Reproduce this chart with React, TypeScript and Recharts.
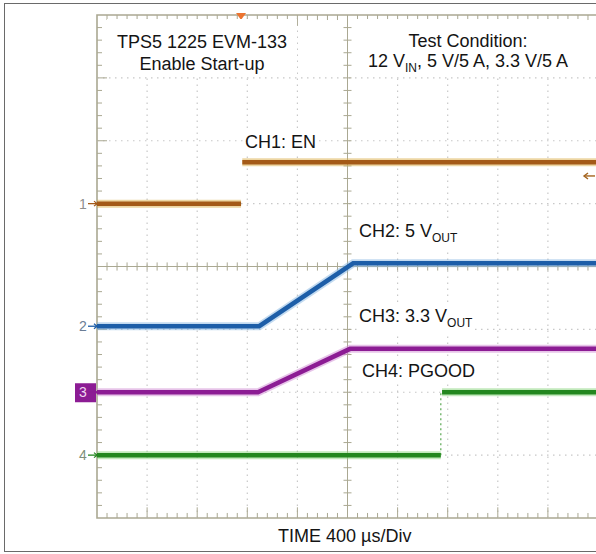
import React from "react";
import {
  ComposedChart,
  Line,
  XAxis,
  YAxis,
  ReferenceLine,
  ReferenceArea,
  ReferenceDot,
} from "recharts";

// scope screen: 10 x 8 divisions, 400 µs per division
const US_PER_DIV = 400;
const X_DIVS = 10;
const Y_DIVS = 8;
const SUBDIVS = 5;

// CH1: EN, steps high at ~1.15 ms (null = no trace drawn on the fast edge)
const enTime = [0, 1150, 1150, 1160, 4000];
const enLevel = [5.0, 5.0, null, 5.66, 5.66];

// CH2: 5 V output soft-start
const v5Time = [0, 1295, 2045, 4000];
const v5Level = [3.05, 3.05, 4.05, 4.05];

// CH3: 3.3 V output soft-start
const v33Time = [0, 1285, 2020, 4000];
const v33Level = [2.0, 2.0, 2.69, 2.69];

// CH4: PGOOD
const pgTime = [0, 2745, 2745, 2755, 4000];
const pgLevel = [1.0, 1.0, null, 2.0, 2.0];

// trigger position and level
const trigTime = 1150;
const trigLevel = 5.44;

const FONT = '"Liberation Sans", Arial, sans-serif';
const GRID = "#aaa892";
const DOTS = "#c8c8c8";

const toPoints = (time: number[], level: (number | null)[]) =>
  time.map((t, i) => ({ t, v: level[i] }));

const channels = [
  { key: "ch1", n: "1", time: enTime, level: enLevel, color: "#a45a18", halo: "#dcae48", tag: "#8f8f8f" },
  { key: "ch2", n: "2", time: v5Time, level: v5Level, color: "#1d5ea8", halo: "#86b6e2", tag: "#6b7d95" },
  { key: "ch3", n: "3", time: v33Time, level: v33Level, color: "#8c1c94", halo: "#cf8ad4", tag: "#8c1c94", boxed: true },
  { key: "ch4", n: "4", time: pgTime, level: pgLevel, color: "#23871f", halo: "#86d47a", tag: "#7d8f7b" },
];

const xMax = US_PER_DIV * X_DIVS;
const xCentre = xMax / 2;
const yCentre = Y_DIVS / 2;
const xMinorStep = US_PER_DIV / SUBDIVS;
const yMinorStep = 1 / SUBDIVS;

const majorX = Array.from({ length: X_DIVS - 1 }, (_, i) => (i + 1) * US_PER_DIV);
const majorY = Array.from({ length: Y_DIVS - 1 }, (_, i) => i + 1);
const minorX = Array.from({ length: X_DIVS * SUBDIVS - 1 }, (_, i) => (i + 1) * xMinorStep);
const minorY = Array.from({ length: Y_DIVS * SUBDIVS - 1 }, (_, i) => +((i + 1) * yMinorStep).toFixed(2));

// tick half-lengths in data units (~4 px)
const TX = 32;
const TY = 0.065;

const ChannelTag = (props: any) => {
  const { cx, cy, n, color, tag, boxed } = props;
  return (
    <g>
      {boxed && <rect x={cx - 22} y={cy - 9} width={21} height={19} fill={color} />}
      <text
        x={cx - 14}
        y={cy + 5}
        fontSize={14}
        fontFamily={FONT}
        fill={boxed ? "#efd6f0" : tag}
        textAnchor="middle"
      >
        {n}
      </text>
      <line x1={cx - 9} y1={cy} x2={cx} y2={cy} stroke={color} strokeWidth={1.3} />
      <path d={`M${cx - 3},${cy - 2.5} L${cx},${cy} L${cx - 3},${cy + 2.5}`} fill="none" stroke={color} strokeWidth={1.3} />
    </g>
  );
};

const TriggerMark = (props: any) => {
  const { cx, cy } = props;
  return <path d={`M${cx - 5},${cy - 2} L${cx + 5},${cy - 2} L${cx},${cy + 5} Z`} fill="#ec7430" />;
};

const LevelMark = (props: any) => {
  const { cx, cy } = props;
  return (
    <g stroke="#a4641e" strokeWidth={1.4} fill="none">
      <line x1={cx - 14} y1={cy} x2={cx - 3} y2={cy} />
      <path d={`M${cx - 10},${cy - 3} L${cx - 14},${cy} L${cx - 10},${cy + 3}`} />
    </g>
  );
};

const Sub = ({ children }: { children: React.ReactNode }) => (
  <span style={{ fontSize: 12, position: "relative", top: 5 }}>{children}</span>
);

const boxStyle = (left: number, top: number, extra: React.CSSProperties = {}): React.CSSProperties => ({
  position: "absolute",
  left,
  top,
  background: "#fff",
  fontFamily: FONT,
  fontSize: 18,
  lineHeight: "21px",
  color: "#141414",
  whiteSpace: "nowrap",
  ...extra,
});

export default function App() {
  return (
    <div
      style={{
        position: "absolute",
        left: 0,
        top: 0,
        width: 596,
        height: 554,
        overflow: "hidden",
        background: "#fff",
      }}
    >
      <ComposedChart width={600} height={554} margin={{ top: 15, right: 2, bottom: 36, left: 97 }}>
        <XAxis type="number" dataKey="t" domain={[0, xMax]} hide allowDuplicatedCategory={false} />
        <YAxis type="number" dataKey="v" domain={[0, Y_DIVS]} hide />

        {/* dotted division lines */}
        {majorX.filter((x) => x !== xCentre).map((x) => (
          <ReferenceLine key={`gx${x}`} x={x} stroke={DOTS} strokeWidth={1.2} strokeDasharray="1.5 4.5" />
        ))}
        {majorY.filter((y) => y !== yCentre).map((y) => (
          <ReferenceLine key={`gy${y}`} y={y} stroke={DOTS} strokeWidth={1.2} strokeDasharray="1.5 4.5" />
        ))}

        {/* centre cross with minor ticks */}
        <ReferenceLine x={xCentre} stroke={GRID} strokeWidth={1} />
        <ReferenceLine y={yCentre} stroke={GRID} strokeWidth={1} />
        {minorX.map((x) => (
          <ReferenceLine key={`cx${x}`} segment={[{ x, y: yCentre - TY }, { x, y: yCentre + TY }]} stroke={GRID} />
        ))}
        {minorY.map((y) => (
          <ReferenceLine key={`cy${y}`} segment={[{ x: xCentre - TX, y }, { x: xCentre + TX, y }]} stroke={GRID} />
        ))}

        {/* edge ticks */}
        {minorX.map((x) => {
          const len = x % US_PER_DIV === 0 ? 0.17 : 0.08;
          return (
            <React.Fragment key={`ex${x}`}>
              <ReferenceLine segment={[{ x, y: 0 }, { x, y: len }]} stroke={GRID} />
              <ReferenceLine segment={[{ x, y: Y_DIVS - len }, { x, y: Y_DIVS }]} stroke={GRID} />
            </React.Fragment>
          );
        })}
        {minorY.map((y) => {
          const len = Number.isInteger(y) ? 80 : 40;
          return <ReferenceLine key={`ey${y}`} segment={[{ x: 0, y }, { x: len, y }]} stroke={GRID} />;
        })}

        <ReferenceArea x1={0} x2={xMax} y1={0} y2={Y_DIVS} fill="none" stroke={GRID} strokeWidth={1.6} />

        {/* faint PGOOD rising edge */}
        <ReferenceLine
          segment={[{ x: pgTime[1], y: pgLevel[1] as number }, { x: pgTime[1], y: pgLevel[3] as number }]}
          stroke="#5aa852"
          strokeWidth={1.2}
          strokeDasharray="2 3"
        />

        {/* traces: persistence halo under a darker core */}
        {channels.map((c) => (
          <Line
            key={`${c.key}h`}
            data={toPoints(c.time, c.level)}
            dataKey="v"
            type="linear"
            stroke={c.halo}
            strokeWidth={8}
            strokeOpacity={0.5}
            connectNulls={false}
            dot={false}
            activeDot={false}
            isAnimationActive={false}
          />
        ))}
        {channels.map((c) => (
          <Line
            key={c.key}
            data={toPoints(c.time, c.level)}
            dataKey="v"
            type="linear"
            stroke={c.color}
            strokeWidth={4.5}
            connectNulls={false}
            dot={false}
            activeDot={false}
            isAnimationActive={false}
          />
        ))}

        {channels.map((c) => (
          <ReferenceDot
            key={`tag${c.key}`}
            x={0}
            y={c.level[0] as number}
            ifOverflow="visible"
            shape={(p: any) => <ChannelTag {...p} n={c.n} color={c.color} tag={c.tag} boxed={c.boxed} />}
          />
        ))}
        <ReferenceDot x={trigTime} y={Y_DIVS} ifOverflow="visible" shape={TriggerMark} />
        <ReferenceDot x={xMax} y={trigLevel} ifOverflow="visible" shape={LevelMark} />
      </ComposedChart>

      {/* outer frame */}
      <div
        style={{
          position: "absolute",
          left: 4,
          top: 3,
          width: 610,
          height: 547,
          border: "1.5px solid #6a6a6a",
          pointerEvents: "none",
        }}
      />

      <div style={boxStyle(107, 19, { width: 190, height: 57, textAlign: "center", paddingTop: 12, boxSizing: "border-box", lineHeight: "22px" })}>
        TPS5 1225 EVM-133
        <br />
        Enable Start-up
      </div>
      <div style={boxStyle(356, 19, { width: 224, height: 57, textAlign: "center", paddingTop: 12, boxSizing: "border-box", lineHeight: "20px" })}>
        Test Condition:
        <br />
        12 V<Sub>IN</Sub>, 5 V/5 A, 3.3 V/5 A
      </div>

      <div style={boxStyle(243, 132, { padding: "0 2px" })}>CH1: EN</div>
      <div style={boxStyle(357, 221, { padding: "0 2px 4px" })}>
        CH2: 5 V<Sub>OUT</Sub>
      </div>
      <div style={boxStyle(357, 306, { padding: "0 2px 4px" })}>
        CH3: 3.3 V<Sub>OUT</Sub>
      </div>
      <div style={boxStyle(360, 361, { padding: "0 2px" })}>CH4: PGOOD</div>

      <div style={boxStyle(278, 526)}>TIME 400 µs/Div</div>
    </div>
  );
}
